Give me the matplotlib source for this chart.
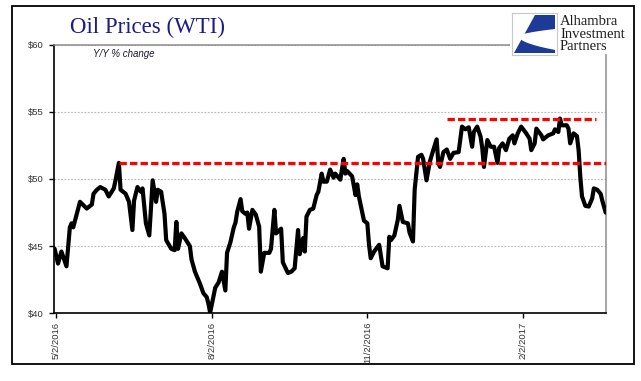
import matplotlib
matplotlib.use("Agg")
import matplotlib.pyplot as plt
import matplotlib.dates as mdates
from matplotlib.patches import Rectangle, Polygon
import numpy as np
import datetime as dt

# ---------------- data ----------------
dates = [
    "2016-05-01", "2016-05-03", "2016-05-05", "2016-05-08", "2016-05-10", "2016-05-11",
    "2016-05-12", "2016-05-16", "2016-05-20", "2016-05-23", "2016-05-24", "2016-05-26",
    "2016-05-28", "2016-05-31", "2016-06-02", "2016-06-05", "2016-06-06", "2016-06-08",
    "2016-06-09", "2016-06-12", "2016-06-14", "2016-06-16", "2016-06-17", "2016-06-19",
    "2016-06-21", "2016-06-22", "2016-06-24", "2016-06-26", "2016-06-28", "2016-06-30",
    "2016-07-01", "2016-07-03", "2016-07-05", "2016-07-06", "2016-07-09", "2016-07-11",
    "2016-07-12", "2016-07-13", "2016-07-15", "2016-07-17", "2016-07-20", "2016-07-21",
    "2016-07-23", "2016-07-26", "2016-07-28", "2016-07-30", "2016-07-31", "2016-08-01",
    "2016-08-03", "2016-08-04", "2016-08-06", "2016-08-08", "2016-08-10", "2016-08-11",
    "2016-08-13", "2016-08-15", "2016-08-16", "2016-08-17", "2016-08-19", "2016-08-20",
    "2016-08-22", "2016-08-23", "2016-08-24", "2016-08-26", "2016-08-28", "2016-08-30",
    "2016-08-31", "2016-09-02", "2016-09-05", "2016-09-06", "2016-09-08", "2016-09-09",
    "2016-09-12", "2016-09-13", "2016-09-16", "2016-09-18", "2016-09-20", "2016-09-22",
    "2016-09-23", "2016-09-25", "2016-09-26", "2016-09-27", "2016-09-29", "2016-10-01",
    "2016-10-03", "2016-10-04", "2016-10-06", "2016-10-07", "2016-10-09", "2016-10-11",
    "2016-10-13", "2016-10-14", "2016-10-17", "2016-10-19", "2016-10-20", "2016-10-21",
    "2016-10-24", "2016-10-26", "2016-10-27", "2016-10-28", "2016-10-31", "2016-11-02",
    "2016-11-03", "2016-11-04", "2016-11-06", "2016-11-09", "2016-11-11", "2016-11-14",
    "2016-11-15", "2016-11-16", "2016-11-18", "2016-11-20", "2016-11-21", "2016-11-23",
    "2016-11-26", "2016-11-27", "2016-11-29", "2016-11-30", "2016-12-02", "2016-12-04",
    "2016-12-05", "2016-12-07", "2016-12-09", "2016-12-11", "2016-12-13", "2016-12-14",
    "2016-12-15", "2016-12-17", "2016-12-19", "2016-12-21", "2016-12-23", "2016-12-26",
    "2016-12-28", "2016-12-30", "2017-01-01", "2017-01-03", "2017-01-04", "2017-01-06",
    "2017-01-08", "2017-01-09", "2017-01-10", "2017-01-12", "2017-01-14", "2017-01-16",
    "2017-01-18", "2017-01-19", "2017-01-21", "2017-01-23", "2017-01-25", "2017-01-27",
    "2017-01-28", "2017-01-30", "2017-02-01", "2017-02-04", "2017-02-06", "2017-02-07",
    "2017-02-09", "2017-02-10", "2017-02-13", "2017-02-14", "2017-02-17", "2017-02-20",
    "2017-02-21", "2017-02-23", "2017-02-24", "2017-02-25", "2017-02-28", "2017-03-01",
    "2017-03-02", "2017-03-04", "2017-03-06", "2017-03-07", "2017-03-08", "2017-03-09",
    "2017-03-11", "2017-03-13", "2017-03-15", "2017-03-16", "2017-03-18", "2017-03-20",
    "2017-03-21", "2017-03-23",
]
prices = [
    44.8, 43.7, 44.6, 43.5, 46.4, 46.7,
    46.4, 48.3, 47.8, 48.1, 48.9, 49.2,
    49.4, 49.2, 48.7, 49.3, 49.9, 51.2,
    49.2, 48.9, 48.3, 46.2, 48.4, 49.4,
    49.05, 49.3, 46.7, 45.8, 49.9, 48.3,
    49.2, 49.05, 47.4, 45.45, 44.8, 44.7,
    46.8, 44.8, 45.95, 45.6, 45.0, 44.0,
    43.1, 42.2, 41.5, 41.2, 40.7, 40.05,
    41.3, 41.9, 42.3, 43.1, 41.7, 44.5,
    45.3, 46.4, 46.75, 47.55, 48.5, 47.6,
    47.4, 47.5, 46.3, 47.7, 47.35, 46.45,
    43.1, 44.5, 44.5, 44.8, 47.7, 45.95,
    46.3, 43.8, 43.0, 43.1, 43.35, 46.2,
    44.4, 45.6, 44.6, 47.2, 47.7, 47.8,
    48.8, 49.05, 50.4, 49.8, 49.8, 50.7,
    50.1, 50.4, 49.95, 51.5, 50.4, 50.6,
    50.2, 48.8, 49.6, 48.7, 46.9, 46.7,
    45.1, 44.1, 44.6, 45.1, 43.5, 43.35,
    45.7, 45.45, 45.8, 46.95, 48.0, 46.8,
    46.7, 46.0, 45.35, 49.2, 51.65, 51.8,
    51.5, 49.9, 51.3, 52.15, 52.95, 51.2,
    50.9, 52.0, 52.2, 51.5, 51.95, 52.0,
    53.9, 53.7, 53.85, 52.4, 53.5, 53.9,
    53.15, 52.3, 50.9, 52.9, 52.4, 52.4,
    51.2, 52.3, 52.65, 52.15, 53.0, 53.25,
    52.65, 53.4, 53.9, 53.4, 53.0, 52.15,
    52.65, 53.75, 53.25, 52.95, 53.25, 53.4,
    53.7, 53.5, 54.5, 54.0, 54.0, 53.75,
    52.65, 53.4, 53.2, 52.15, 50.15, 48.7,
    48.0, 47.95, 48.55, 49.3, 49.2, 48.9,
    48.4, 47.5,
]

ref_levels = [51.16, 54.45]
ref_starts = ["2016-06-08", "2016-12-19"]
ref_ends = ["2017-03-23", "2017-03-17"]

tick_dates = ["2016-05-02", "2016-08-02", "2016-11-02", "2017-02-02"]
tick_labels = ["5/2/2016", "8/2/2016", "11/2/2016", "2/2/2017"]
y_ticks = [40, 45, 50, 55, 60]
y_tick_labels = ["$40", "$45", "$50", "$55", "$60"]

title = "Oil Prices (WTI)"
subtitle = "Y/Y % change"
logo_lines = ["Alhambra", "Investment", "Partners"]

# ---------------- figure ----------------
W, H = 641, 381
fig = plt.figure(figsize=(W / 100, H / 100), dpi=100)
fig.patch.set_facecolor("white")

def fx(px):
    return px / W

def fy(py):
    return 1 - py / H

ax = fig.add_axes([fx(54.3), fy(313.3), fx(606) - fx(54.3), fy(44.7) - fy(313.3)])

xd = [dt.datetime.strptime(d, "%Y-%m-%d") for d in dates]
ax.plot(xd, prices, color="black", lw=3.0, solid_joinstyle="round",
        solid_capstyle="round", zorder=3)

for lvl, s, e in zip(ref_levels, ref_starts, ref_ends):
    ax.plot([dt.datetime.strptime(s, "%Y-%m-%d"), dt.datetime.strptime(e, "%Y-%m-%d")],
            [lvl, lvl], color="#ff0000", lw=2.3, dashes=(2.3, 1.0),
            solid_capstyle="butt", dash_capstyle="butt", zorder=4)

x0 = mdates.date2num(dt.datetime(2016, 5, 2))
ax.set_xlim(x0 - 1.2, x0 + 325.2)
ax.set_ylim(40, 60)

ax.set_yticks(y_ticks)
ax.set_yticklabels(y_tick_labels)
ax.set_xticks([dt.datetime.strptime(d, "%Y-%m-%d") for d in tick_dates])
ax.set_xticklabels(tick_labels, rotation=90, va="top", ha="center")

for lab in ax.get_yticklabels():
    lab.set_fontfamily(["Liberation Sans"])
    lab.set_fontsize(6.8)
    lab.set_color("#333333")
for lab in ax.get_xticklabels():
    lab.set_fontfamily(["Liberation Sans"])
    lab.set_fontsize(6.8)
    lab.set_color("#333333")

ax.tick_params(axis="y", direction="out", length=3.6, width=1.0, pad=4, color="black")
ax.tick_params(axis="x", direction="out", length=3.6, width=1.0, pad=2.5, color="black")

ax.grid(axis="y", color="#b5b5b5", lw=0.8, linestyle=(0, (1.5, 1.5)))
ax.grid(axis="x", visible=False)
ax.set_axisbelow(True)

for side in ("left", "bottom"):
    ax.spines[side].set_color("black")
    ax.spines[side].set_linewidth(1.2)
for side in ("top", "right"):
    ax.spines[side].set_color("#8c8c8c")
    ax.spines[side].set_linewidth(1.1)

# title and subtitle
fig.text(fx(70), fy(33), title, family=["Liberation Serif"], size=16.5,
         color="#1c1c84", ha="left", va="baseline")
fig.text(fx(93), fy(57), subtitle, family=["Liberation Sans"], style="italic",
         size=7, color="#1a1a2a", ha="left", va="baseline")

# white cover for logo area
fig.patches.append(Rectangle((fx(510), fy(54)), fx(632) - fx(510), fy(8) - fy(54),
                             transform=fig.transFigure, facecolor="white",
                             edgecolor="none", zorder=5))

# logo mark
lax = fig.add_axes([fx(512), fy(55), fx(557) - fx(512), fy(13) - fy(55)], zorder=6)
lax.set_xlim(0, 1)
lax.set_ylim(0, 1)
lax.set_xticks([])
lax.set_yticks([])
for sp in lax.spines.values():
    sp.set_color("#c8c8c8")
    sp.set_linewidth(0.8)
blue = "#1c3a96"
lax.add_patch(Polygon([(0.50, 0.96), (0.96, 0.96), (0.96, 0.04), (0.05, 0.04)],
                      closed=True, facecolor=blue, edgecolor="none"))
t = np.linspace(0, 1, 30)
top_curve = [(0.15 + 0.81 * u, 0.45 + 0.17 * u ** 0.6) for u in t]
bot_curve = [(0.15 + 0.81 * u, 0.45 - 0.33 * u ** 0.5) for u in t[::-1]]
lax.add_patch(Polygon(top_curve + bot_curve, closed=True, facecolor="white",
                      edgecolor="none"))

# logo text
for i, line in enumerate(logo_lines):
    fig.text(fx(560), fy(25 + 12.5 * i), line, family=["Liberation Serif"], size=10.5,
             color="#1e1e1e", ha="left", va="baseline", zorder=7)

# outer frame
fig.patches.append(Rectangle((fx(12), fy(364)), fx(634) - fx(12), fy(6) - fy(364),
                             transform=fig.transFigure, facecolor="none",
                             edgecolor="black", lw=1.3, zorder=8))

fig.savefig("out.png", dpi=100, facecolor="white")
